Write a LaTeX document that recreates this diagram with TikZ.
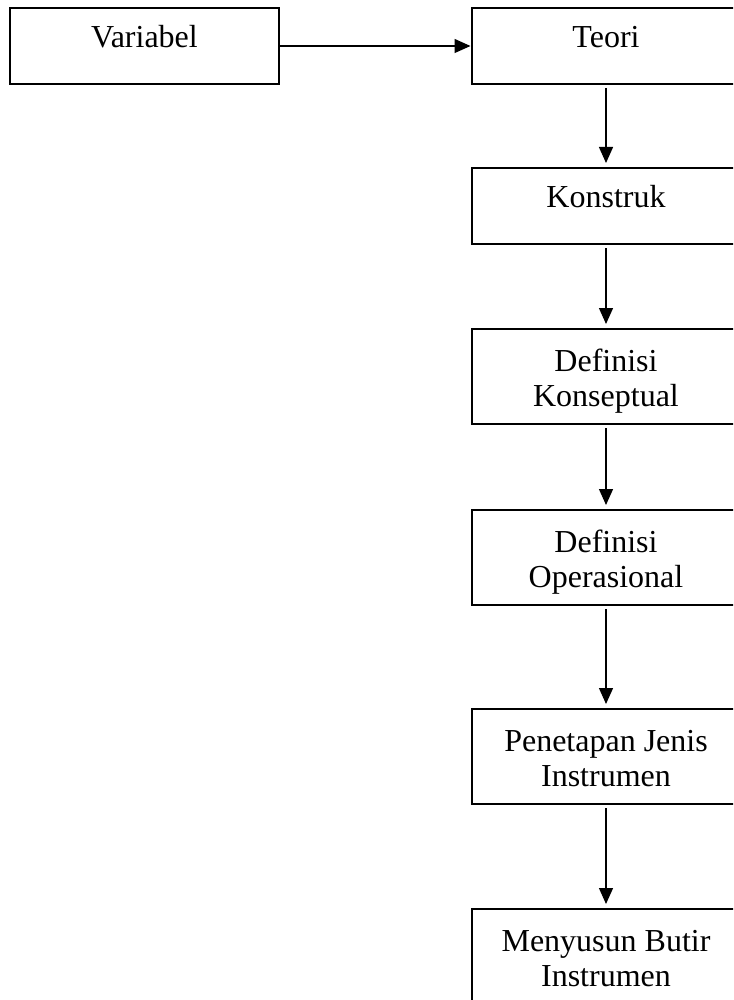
\documentclass[tikz,border=0pt]{standalone}
\usepackage{fontspec}
\setmainfont{Liberation Serif}
\usetikzlibrary{arrows.meta}
\begin{document}
\begin{tikzpicture}[x=1pt,y=-1pt,
  box/.style={draw=black,line width=2pt,rectangle,anchor=north,inner xsep=0pt,inner ysep=0pt,
    minimum width=269pt,align=center,font=\fontsize{32}{35}\selectfont},
  onebox/.style={box,minimum height=76pt,text height=40pt,text depth=36pt},
  twobox/.style={box,minimum height=95pt,text height=77pt,text depth=18pt},
  flow/.style={line width=1.3pt,-{Triangle[length=16pt,width=14pt]}},
  vflow/.style={flow,shorten <=3pt,shorten >=4pt}]
\useasboundingbox (0,0) rectangle (733,1000);
\clip (0,0) rectangle (733,1000);
\fill[white] (0,0) rectangle (733,1000);
\node[onebox] (var) at (144.5,7) {Variabel};
\node[onebox] (teori) at (606,7) {Teori};
\node[onebox] (kons) at (606,167) {Konstruk};
\node[twobox] (dk) at (606,328) {Definisi\\Konseptual};
\node[twobox] (do) at (606,509) {Definisi\\Operasional};
\node[twobox] (pj) at (606,708) {Penetapan Jenis\\Instrumen};
\node[twobox] (mb) at (606,908) {Menyusun Butir\\Instrumen};
\draw[flow] (var.east) -- (teori.west);
\draw[vflow] (teori.south) -- (kons.north);
\draw[vflow] (kons.south) -- (dk.north);
\draw[vflow] (dk.south) -- (do.north);
\draw[vflow] (do.south) -- (pj.north);
\draw[vflow] (pj.south) -- (mb.north);
\end{tikzpicture}
\end{document}
